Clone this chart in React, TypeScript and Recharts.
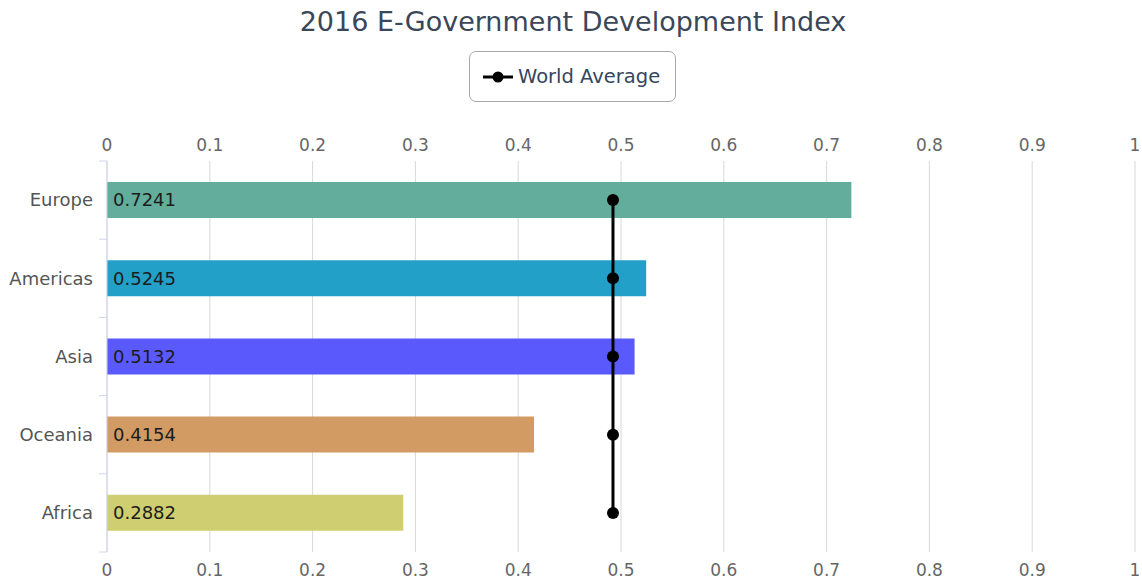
import React from "react";
import {
  ComposedChart,
  Bar,
  Line,
  Cell,
  XAxis,
  YAxis,
  CartesianGrid,
  LabelList,
} from "recharts";

const regions = ["Europe", "Americas", "Asia", "Oceania", "Africa"];
const egdi = [0.7241, 0.5245, 0.5132, 0.4154, 0.2882];
const worldAverage = [0.4922, 0.4922, 0.4922, 0.4922, 0.4922];
const barColors = ["#62ad9b", "#22a0c8", "#5a5afc", "#d29b64", "#cfcf72"];
const xTicks = [0, 0.1, 0.2, 0.3, 0.4, 0.5, 0.6, 0.7, 0.8, 0.9, 1];

const data = regions.map((r, i) => ({
  region: r,
  value: egdi[i],
  avg: worldAverage[i],
}));

const FONT = '"DejaVu Sans", Verdana, sans-serif';
const TICK_MARGIN = 14;

// category label plus highcharts-style tick marks on the band edges
function RegionTick(props: any) {
  const { x, y, payload, index, visibleTicksCount } = props;
  const half = payload.offset || 0;
  const ax = x + TICK_MARGIN;
  const last = index === visibleTicksCount - 1;
  return (
    <g>
      <line x1={ax - 8} x2={ax} y1={y - half} y2={y - half} stroke="#ccd6eb" />
      {last && (
        <line x1={ax - 8} x2={ax} y1={y + half} y2={y + half} stroke="#ccd6eb" />
      )}
      <text
        x={x}
        y={y}
        dy="0.35em"
        textAnchor="end"
        fill="#555"
        fontSize={18}
        fontFamily={FONT}
      >
        {payload.value}
      </text>
    </g>
  );
}

export default function App() {
  return (
    <div
      style={{
        position: "absolute",
        left: 0,
        top: 0,
        width: 1142,
        height: 581,
        overflow: "hidden",
        background: "#fff",
        fontFamily: FONT,
      }}
    >
      <div
        style={{
          position: "absolute",
          left: 0,
          width: 1146,
          top: 5,
          textAlign: "center",
          fontSize: 27,
          color: "#3a4759",
          lineHeight: "34px",
        }}
      >
        2016 E-Government Development Index
      </div>
      <div
        style={{
          position: "absolute",
          left: 469,
          top: 51,
          width: 207,
          height: 51,
          border: "1px solid #a8a8a8",
          borderRadius: 7,
          boxSizing: "border-box",
          display: "flex",
          alignItems: "center",
          paddingLeft: 13,
        }}
      >
        <svg width={30} height={14} style={{ marginRight: 5 }}>
          <line x1={0} y1={7} x2={30} y2={7} stroke="#000" strokeWidth={3} />
          <circle cx={15} cy={7} r={5.5} fill="#000" />
        </svg>
        <span style={{ fontSize: 19.5, color: "#34465e" }}>World Average</span>
      </div>
      <ComposedChart
        width={1150}
        height={581}
        data={data}
        layout="vertical"
        margin={{ top: 131, right: 15, bottom: 0, left: 10 }}
        style={{ fontFamily: FONT }}
      >
        <CartesianGrid
          xAxisId="top"
          yAxisId="cat"
          horizontal={false}
          stroke="#d8d8d8"
        />
        <XAxis
          xAxisId="top"
          orientation="top"
          type="number"
          domain={[0, 1]}
          ticks={xTicks}
          height={30}
          axisLine={false}
          tickLine={false}
          tickSize={0}
          tickMargin={10}
          tick={{ fill: "#666", fontSize: 17 }}
        />
        <XAxis
          xAxisId="bottom"
          orientation="bottom"
          type="number"
          domain={[0, 1]}
          allowDataOverflow
          ticks={xTicks}
          height={29}
          axisLine={false}
          tickLine={false}
          tickSize={0}
          tickMargin={12}
          tick={{ fill: "#666", fontSize: 17 }}
        />
        <YAxis
          yAxisId="cat"
          type="category"
          dataKey="region"
          width={97}
          axisLine={{ stroke: "#ccd6eb" }}
          tickLine={false}
          tickSize={0}
          tickMargin={TICK_MARGIN}
          tick={<RegionTick />}
        />
        <Bar
          xAxisId="top"
          yAxisId="cat"
          dataKey="value"
          barSize={36}
          isAnimationActive={false}
        >
          {data.map((d, i) => (
            <Cell key={d.region} fill={barColors[i]} />
          ))}
          <LabelList
            dataKey="value"
            position="insideLeft"
            offset={6}
            fill="#1c1c1c"
            fontSize={18}
          />
        </Bar>
        <Line
          xAxisId="bottom"
          yAxisId="cat"
          dataKey="avg"
          stroke="none"
          dot={false}
          legendType="none"
          isAnimationActive={false}
        />
        <Line
          xAxisId="top"
          yAxisId="cat"
          dataKey="avg"
          stroke="#000"
          strokeWidth={3}
          dot={{ r: 6, fill: "#000", stroke: "none" }}
          isAnimationActive={false}
        />
      </ComposedChart>
    </div>
  );
}
